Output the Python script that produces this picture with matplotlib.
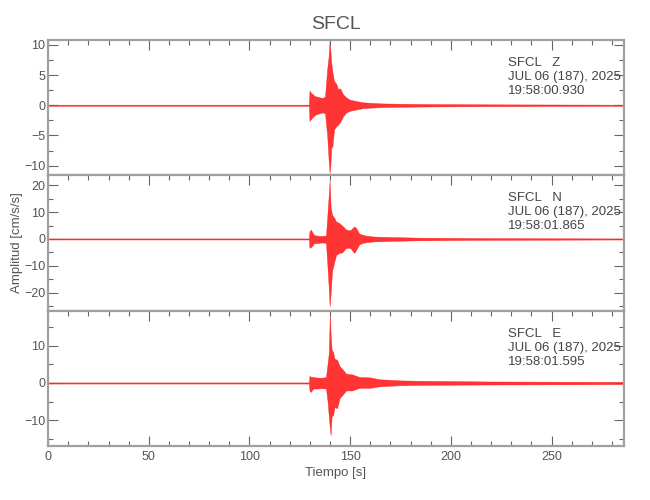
import numpy as np
import matplotlib
matplotlib.use("Agg")
import matplotlib.pyplot as plt
from matplotlib.ticker import MultipleLocator

plt.rcParams['font.family'] = ['Liberation Sans', 'DejaVu Sans']

station = "SFCL"
t_max = 286
date_str = "JUL 06 (187), 2025"

# envelope of each component (time s, max, min in cm/s/s)
t_z = [0, 129.5, 129.8, 130.5, 131.5, 132.5, 134, 136, 137.5, 138.6, 139.3, 139.8, 140.2,
       140.6, 141.2, 142, 143, 144, 145, 146.5, 148, 150, 153, 156, 160, 166, 175, 190, 220, 286]
hi_z = [0.1, 0.1, 2.4, 2.1, 1.8, 1.5, 1.4, 1.2, 1.4, 6, 8, 10.8, 9, 7, 5.5, 4, 3.6, 2.7,
        2.8, 1.8, 1.3, 0.9, 0.7, 0.5, 0.4, 0.3, 0.25, 0.2, 0.15, 0.1]
lo_z = [-0.1, -0.1, -2.6, -2.3, -1.9, -1.6, -1.4, -1.2, -1.3, -5, -9, -11.2, -10, -7, -6.8,
        -4, -3.5, -3.2, -2.8, -1.8, -1.2, -0.9, -0.7, -0.5, -0.4, -0.3, -0.25, -0.2, -0.15, -0.1]

t_n = [0, 129.5, 129.8, 130.5, 131.2, 132, 134, 136, 138, 138.8, 139.5, 139.8, 140.3, 141,
       142, 143, 144.5, 146, 148, 150, 152, 153, 154.5, 156, 158, 162, 171, 184, 210, 286]
hi_n = [0.2, 0.2, 2.8, 3.5, 2.5, 1.5, 1.2, 1.1, 1.3, 10, 18, 22, 12, 9, 8, 6.5, 6, 5, 3.5,
        3.2, 4.7, 4, 2, 1.6, 1.2, 0.9, 0.7, 0.5, 0.35, 0.2]
lo_n = [-0.2, -0.2, -3.3, -3.0, -2.5, -1.6, -1.5, -1.3, -1.5, -11, -20, -25, -20.6, -12, -8.9,
        -6, -5.2, -5, -3.3, -3.3, -5.2, -4, -2, -1.5, -1.2, -0.9, -0.7, -0.5, -0.35, -0.2]

t_e = [0, 129.5, 129.8, 130.5, 131.6, 133, 136, 138, 138.8, 139.4, 139.9, 140.3, 140.8,
       141.5, 142.3, 143.5, 144.8, 146, 148, 151, 154.6, 160, 164.5, 175, 184, 220, 286]
hi_e = [0.15, 0.15, 1.9, 1.7, 1.6, 1.5, 1.4, 1.6, 5.2, 8, 19, 13, 9, 8.3, 6.5, 6.2, 4.5,
        3.8, 2.5, 2.3, 1.6, 1.5, 1.0, 0.7, 0.6, 0.4, 0.3]
lo_e = [-0.15, -0.15, -2.0, -2.4, -1.5, -1.5, -1.4, -1.5, -5, -9, -12, -14, -9, -8.6, -6.4,
        -6.8, -4, -3.3, -2, -2, -1.3, -1.3, -0.9, -0.6, -0.5, -0.4, -0.3]

components = ["Z", "N", "E"]
start_times = ["19:58:00.930", "19:58:01.865", "19:58:01.595"]
traces = [(t_z, hi_z, lo_z), (t_n, hi_n, lo_n), (t_e, hi_e, lo_e)]
ylims = [(-11.6, 10.8), (-26.7, 23.7), (-16.9, 19.4)]
ymajor = [5, 10, 10]
yminor = [2.5, 5, 5]

axis_grey = "#a0a0a0"
text_grey = "#555555"

fig, axes = plt.subplots(3, 1, figsize=(6.5, 5), dpi=100, sharex=True)
fig.subplots_adjust(left=0.074, right=0.96, top=0.92, bottom=0.108, hspace=0)

for i, ax in enumerate(axes):
    t, hi, lo = traces[i]
    ax.fill_between(t, lo, hi, color="#ff1010", linewidth=0.3, alpha=0.85)
    ax.set_xlim(0, t_max)
    ax.set_ylim(*ylims[i])
    ax.yaxis.set_major_locator(MultipleLocator(ymajor[i]))
    ax.yaxis.set_minor_locator(MultipleLocator(yminor[i]))
    ax.xaxis.set_major_locator(MultipleLocator(50))
    ax.xaxis.set_minor_locator(MultipleLocator(10))
    last = i == len(axes) - 1
    ax.tick_params(axis='x', which='both', direction='in', top=True, bottom=last,
                   labelbottom=last, color="#666666", labelcolor=text_grey, labelsize=9)
    ax.tick_params(axis='y', which='both', direction='in', left=True, right=True,
                   color="#666666", labelcolor=text_grey, labelsize=9, pad=2)
    ax.tick_params(which='major', length=7, width=0.8)
    ax.tick_params(which='minor', length=3.6, width=0.8)
    for sp in ax.spines.values():
        sp.set_color(axis_grey)
        sp.set_linewidth(1.6)
    ax.text(0.798, 0.875, f"{station}   {components[i]}\n{date_str}\n{start_times[i]}",
            transform=ax.transAxes, va='top', ha='left', fontsize=9.5,
            color="#444444", linespacing=1.22)

axes[0].set_title(station, fontsize=14, color=text_grey, pad=8)
axes[2].set_xlabel("Tiempo [s]", fontsize=9.5, color=text_grey, labelpad=3)
fig.text(0.026, 0.515, "Amplitud [cm/s/s]", rotation=90, ha='center', va='center',
         fontsize=9.5, color=text_grey)

fig.savefig("out.png", dpi=100)
